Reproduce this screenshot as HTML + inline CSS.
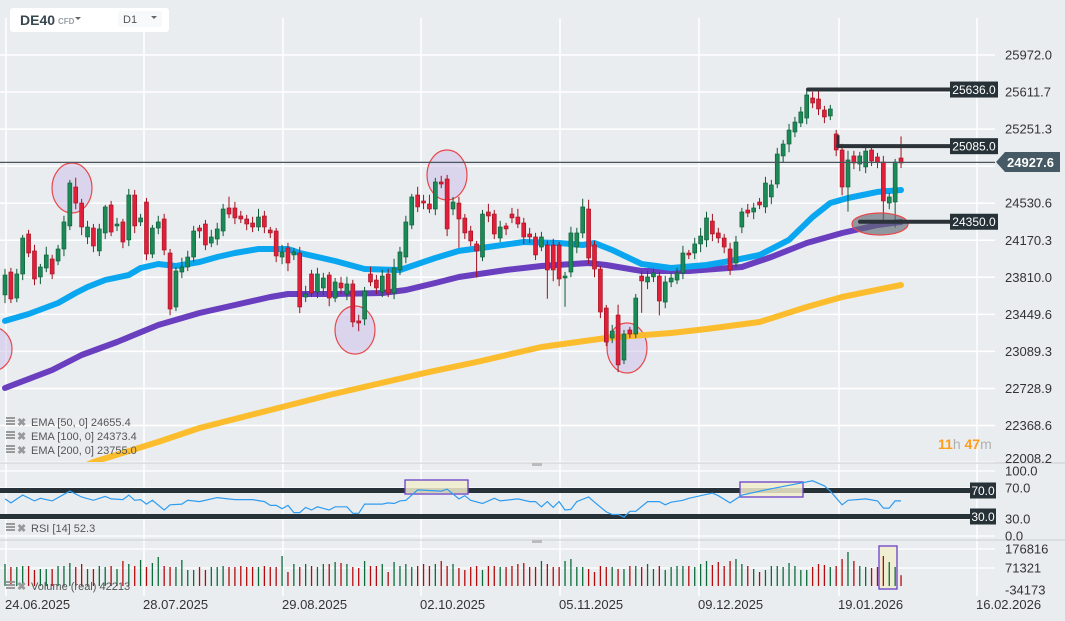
<!DOCTYPE html>
<html><head><meta charset="utf-8"><style>
html,body{margin:0;padding:0;background:#eaedf0;width:1065px;height:621px;overflow:hidden;font-family:"Liberation Sans",sans-serif}
svg{position:absolute;left:0;top:0}
</style></head><body>
<svg id="c" width="1065" height="621"></svg>
<script>
const opens=[23638,23861,23608,23842,24231,24066,23813,23900,23988,23968,24085,24309,24688,24532,24202,24289,24066,24241,24513,24309,24348,24173,24610,24348,24542,24036,24289,24377,24046,23521,23861,23910,24007,24289,24328,24143,24182,24260,24484,24484,24406,24377,24338,24299,24406,24270,24260,24007,24095,24027,24046,23618,23842,23667,23706,23832,23608,23754,23647,23745,23385,23404,23842,23783,23667,23842,23657,23881,24007,24318,24610,24552,24523,24474,24737,24766,24474,24532,24386,24260,24134,24007,24445,24425,24192,24309,24425,24396,24338,24231,24202,24104,24124,24124,24124,23803,23861,24104,24241,24474,24124,23890,23511,23219,23443,23005,23297,23258,23822,23764,23813,23822,23569,23764,23783,23852,24046,24046,24134,24173,24357,24241,24192,24085,23949,24299,24464,24445,24542,24494,24591,24717,24990,25106,25223,25311,25359,25554,25544,25437,25379,25204,25048,24688,24990,24912,24883,25048,24980,24931,24532,24542,24970];
const closes=[23832,23599,23842,24192,24046,23793,23910,24027,23842,24085,24348,24727,24532,24299,24299,24114,24280,24494,24250,24328,24153,24610,24309,24387,24036,24289,24348,24075,23501,23871,23910,24007,24260,24260,24124,24202,24280,24474,24425,24387,24377,24328,24299,24396,24299,24241,24017,24056,23949,24056,23521,23647,23657,23842,23803,23608,23764,23706,23745,23375,23365,23676,23764,23706,23822,23657,23900,24056,24348,24591,24494,24532,24474,24737,24717,24280,24542,24377,24241,24163,24066,24425,24406,24231,24299,24280,24387,24328,24202,24202,24027,24202,23881,23881,23793,23822,24241,24241,24494,23997,23890,23472,23180,23287,22957,23258,23258,23608,23774,23813,23852,23579,23764,23803,23852,24046,24027,24134,24211,24387,24231,24192,24104,23881,24153,24445,24435,24484,24513,24727,24708,25009,25106,25242,25320,25418,25583,25505,25447,25369,25447,25048,24688,24951,24922,24990,25038,24941,24931,24552,24591,24931,24922];
const wickHi=[60,40,50,30,40,60,30,80,40,40,60,30,90,40,60,40,50,20,40,60,30,60,50,40,40,30,60,50,40,40,90,60,50,30,40,70,60,50,110,60,50,40,60,80,50,30,30,70,50,40,60,80,40,60,50,30,40,60,70,40,60,40,70,50,60,50,90,50,60,30,80,60,90,40,60,40,50,60,40,50,30,40,80,40,60,30,60,80,50,60,40,50,40,60,30,40,60,50,80,90,40,30,30,60,100,40,30,40,50,60,40,40,60,50,50,70,30,60,80,60,70,50,40,60,60,40,60,50,40,60,50,60,40,60,50,50,40,60,80,40,40,40,60,90,50,40,30,50,40,60,40,30,210];
const wickLo=[80,40,40,60,40,60,70,40,50,40,70,40,60,80,70,60,50,60,40,50,60,60,70,40,60,40,60,50,60,40,60,40,50,70,50,40,60,50,40,60,40,60,50,40,60,50,60,70,80,50,60,50,40,60,70,80,40,60,60,50,80,60,40,60,50,40,60,50,60,40,50,60,40,60,40,70,60,280,60,50,260,40,60,50,40,60,50,40,70,60,50,40,280,110,70,280,50,60,50,60,80,60,40,50,70,40,40,40,310,70,50,140,60,50,40,60,40,60,80,70,70,50,60,50,40,60,40,70,40,60,70,40,60,80,50,40,60,50,60,60,40,60,80,240,60,70,60,50,60,190,60,250,50];
const volumes=[110000,95000,95000,100000,100000,80000,85000,85000,85000,100000,100000,115000,95000,110000,85000,85000,100000,95000,100000,85000,125000,110000,100000,130000,95000,115000,145000,100000,95000,95000,130000,80000,80000,95000,80000,95000,95000,100000,95000,95000,100000,95000,95000,95000,100000,95000,95000,150000,70000,110000,95000,110000,100000,95000,110000,110000,120000,115000,110000,95000,90000,125000,100000,100000,110000,70000,120000,100000,110000,95000,100000,110000,100000,110000,125000,100000,110000,90000,80000,95000,100000,80000,100000,100000,95000,95000,100000,110000,115000,95000,95000,125000,110000,95000,95000,125000,135000,95000,95000,85000,70000,100000,95000,95000,85000,85000,100000,100000,95000,110000,85000,100000,80000,95000,100000,100000,100000,95000,110000,125000,105000,120000,100000,125000,135000,110000,100000,85000,70000,80000,100000,100000,95000,115000,100000,80000,80000,95000,110000,105000,95000,100000,135000,170000,125000,100000,95000,90000,95000,150000,120000,95000,54000];
const ema50Idx=[0,4,9,12,14,17,21,23,26,29,33,36,39,43,48,50,56,61,67,73,77,82,88,94,98,100,103,108,113,119,123,128,133,137,140,143,148,152];
const ema50Val=[23385,23453,23560,23657,23715,23783,23832,23900,23939,23920,23958,24007,24046,24085,24085,24046,23968,23890,23881,23997,24066,24104,24153,24143,24124,24143,24075,23939,23900,23929,23968,24027,24173,24396,24532,24581,24640,24659];
const ema100Idx=[0,8,13,19,26,33,39,45,48,56,64,68,73,77,85,91,99,102,108,116,125,130,136,142,148,152];
const ema100Val=[22733,22908,23054,23180,23346,23462,23540,23618,23647,23647,23657,23686,23754,23813,23881,23920,23949,23929,23871,23871,23910,24007,24143,24241,24318,24348];
const ema200Idx=[9,15,26,33,45,55,72,80,91,102,113,119,128,136,142,152];
const ema200Val=[21857,22013,22208,22344,22519,22665,22889,22986,23132,23219,23268,23307,23375,23521,23618,23735];
const rsiIdx=[0,1,3,5,6,8,11,13,15,17,18,20,21,22,23,24,25,27,28,30,31,33,36,39,42,44,45,46,47,48,49,50,51,52,53,55,56,58,59,60,61,64,65,66,67,68,70,72,74,75,77,78,79,81,83,84,87,89,90,91,92,93,94,95,96,97,99,100,102,103,104,105,106,107,109,111,112,113,115,116,118,120,121,123,125,129,133,137,139,140,142,143,146,148,149,150,151,152];
const rsiVal=[57,51,63,54,58,54,69,60,55,61,57,56,63,55,56,49,55,40,48,49,55,53,59,56,56,53,47,47,42,47,36,36,44,40,45,40,45,45,35,35,49,49,51,50,54,55,71,70,69,72,57,62,55,50,58,54,57,53,53,45,53,44,53,40,41,53,60,52,37,33,33,29,38,38,53,53,48,52,55,58,62,66,62,51,63,71,78,85,77,69,48,55,57,54,43,43,54,54];
const dateLabels=['24.06.2025','28.07.2025','29.08.2025','02.10.2025','05.11.2025','09.12.2025','19.01.2026','16.02.2026'];
const dateX=[5,143,282,420,559,698,838,976];
const priceTicks=['25972.0','25611.7','25251.3','24890.9','24530.6','24170.3','23810.0','23449.6','23089.3','22728.9','22368.6','22008.2'];
const levels=[25636.0,25085.0,24350.0];
const levelStart=[808,838,860];

const NS='http://www.w3.org/2000/svg';
const svg=document.getElementById('c');
function el(tag,attrs,parent){const e=document.createElementNS(NS,tag);for(const k in attrs)e.setAttribute(k,attrs[k]);(parent||svg).appendChild(e);return e;}
const Y=p=>55+(25972-p)/360.4*37.05;
const X=i=>5+i*5.895;
const RY=r=>536-r*0.65;
const VY=v=>586-v*0.0002;

for(let k=0;k<priceTicks.length;k++){const y=55+k*37.05;const g=el('line',{x1:0,x2:995,y1:y,y2:y,stroke:'#fff','stroke-width':1.5});}
[471,488,519,536,549,568].forEach(y=>{const g=el('line',{x1:0,x2:995,y1:y,y2:y,stroke:'#fff','stroke-width':1.2});});
dateX.forEach(x=>{const g=el('line',{x1:x+1,x2:x+1,y1:18,y2:596,stroke:'#fff','stroke-width':1.5});});
el('line',{x1:0,x2:1065,y1:463,y2:463,stroke:'#d0d4d8','stroke-width':1.2});
el('line',{x1:0,x2:1065,y1:540,y2:540,stroke:'#d0d4d8','stroke-width':1.2});
el('rect',{x:532,y:463,width:10,height:3,fill:'#bbb'});
el('rect',{x:532,y:540,width:10,height:3,fill:'#bbb'});

const defs=el('defs',{});const cp=el('clipPath',{id:'mainclip'},defs);el('rect',{x:0,y:20,width:995,height:442},cp);
const main=el('g',{'clip-path':'url(#mainclip)'});


function ell(cx,cy,rx,ry,fill){const e=el('ellipse',{cx,cy,rx,ry,fill,stroke:'#e8474a','stroke-width':1.2},main);return e;}
ell(72,188,20,25,'rgba(200,185,230,0.45)');
ell(355,330,20,24,'rgba(200,185,230,0.45)');
ell(447,175,20,25,'rgba(200,185,230,0.45)');
ell(627,348,20,25,'rgba(200,185,230,0.45)');
ell(-8,349,20,22,'rgba(200,185,230,0.45)');

function line(idx,val,color,w,name){let d='';for(let k=0;k<idx.length;k++)d+=(k?'L':'M')+X(idx[k]).toFixed(1)+' '+Y(val[k]).toFixed(1);const p=el('path',{d,fill:'none',stroke:color,'stroke-width':w,'stroke-linejoin':'round','stroke-linecap':'round'},main);}
line(ema200Idx,ema200Val,'#fbbd2e',6,'ema-200-line');
line(ema100Idx,ema100Val,'#6a3fbf',6,'ema-100-line');
line(ema50Idx,ema50Val,'#0aa7f0',6,'ema-50-line');

for(let i=0;i<closes.length;i++){
  const o=opens[i],c=closes[i],up=c>=o;const x=X(i);
  const hi=Math.max(o,c)+wickHi[i],lo=Math.min(o,c)-wickLo[i];
  const col=up?'#1b8a57':'#e0203a',stroke=up?'#0d5a36':'#a0101f';
  const w=el('line',{x1:x,x2:x,y1:Y(hi),y2:Y(lo),stroke:stroke,'stroke-width':1},main);
  
  const top=Y(Math.max(o,c)),bot=Y(Math.min(o,c));
  const b=el('rect',{x:x-2,y:top,width:4,height:Math.max(1.5,bot-top),fill:col,stroke:stroke,'stroke-width':0.6},main);
  
}
const ge=el('ellipse',{cx:880,cy:224,rx:28,ry:11,fill:'rgba(95,105,115,0.65)',stroke:'#e8474a','stroke-width':1.2},main);


const cpl=el('line',{x1:0,x2:995,y1:Y(24927.6),y2:Y(24927.6),stroke:'#4a555c','stroke-width':1.2});


levels.forEach((lv,k)=>{const y=Y(lv);
 const l=el('line',{x1:levelStart[k],x2:950,y1:y,y2:y,stroke:'#2b3338','stroke-width':4,'stroke-linecap':'round'});
 
 const r=el('rect',{x:950,y:y-8,width:48,height:16,fill:'#263238'});
 const t=el('text',{x:974,y:y+4.5,'text-anchor':'middle','font-size':12,fill:'#fff'});t.textContent=lv.toFixed(1);
});
{const y=Y(levels[1]);el('line',{x1:838,x2:838,y1:y-11,y2:y,stroke:'#2b3338','stroke-width':3});}

priceTicks.forEach((t,k)=>{if(k===3)return;let y=55+k*37.05+4.5;if(k===11)y=463;const e=el('text',{x:1005,y,'font-size':13,fill:'#333'});e.textContent=t;});
const cur=el('path',{d:'M996 162 L1005 152 L1060 152 L1060 172 L1005 172 Z',fill:'#455a64'});
const ct=el('text',{x:1007,y:167,'font-size':13,'font-weight':'bold',fill:'#fff'});ct.textContent='24927.6';

const rl=[70,30];rl.forEach(v=>{const y=RY(v);const l=el('line',{x1:0,x2:970,y1:y,y2:y,stroke:'#263238','stroke-width':5});
 el('rect',{x:970,y:y-8,width:26,height:16,fill:'#263238'});const t=el('text',{x:983,y:y+4.5,'text-anchor':'middle','font-size':12,fill:'#fff'});t.textContent=v.toFixed(1);});
function box(x,y,w,h,name){const r=el('rect',{x,y,width:w,height:h,fill:'rgba(240,236,205,0.85)',stroke:'#6a3fc8','stroke-width':1.3});}
box(405,480,63,14,'rsi-box');box(740,482,63,15,'rsi-box');
{let d='';for(let k=0;k<rsiIdx.length;k++)d+=(k?'L':'M')+X(rsiIdx[k]).toFixed(1)+' '+RY(rsiVal[k]).toFixed(1);
 const p=el('path',{d,fill:'none',stroke:'#2f9cf0','stroke-width':1.2});}
[['100.0',471],['70.0',488],['30.0',519],['0.0',536]].forEach(([t,y])=>{const e=el('text',{x:1005,y:y+4.5,'font-size':13,fill:'#333'});e.textContent=t;});

box(879,546,18,43,'volume-box');
for(let i=0;i<volumes.length;i++){const x=X(i);const up=closes[i]>=opens[i];
 const b=el('line',{x1:x,x2:x,y1:VY(volumes[i]),y2:586,stroke:up?'#0b6b3a':'#b50a0a','stroke-width':1.3});
 }
[['176816',549],['71321',568],['-34173',590]].forEach(([t,y])=>{const e=el('text',{x:1005,y:y+4.5,'font-size':13,fill:'#333'});e.textContent=t;});

dateLabels.forEach((t,k)=>{const e=el('text',{x:dateX[k],y:609,'font-size':13,fill:'#333'});e.textContent=t;});

function legend(y,txt,name){const g=el('g',{});
 el('rect',{x:6,y:y-8,width:9,height:2,fill:'#999'},g);el('rect',{x:6,y:y-5,width:9,height:2,fill:'#999'},g);el('rect',{x:6,y:y-2,width:9,height:2,fill:'#999'},g);
 const x=el('text',{x:17,y:y+1,'font-size':11,fill:'#999','font-weight':'bold'},g);x.textContent='✖';
 const t=el('text',{x:31,y:y+1,'font-size':11,fill:'#555'},g);t.textContent=txt;}
legend(425,'EMA [50,  0]  24655.4','ema-50-legend');
legend(439,'EMA [100,  0]  24373.4','ema-100-legend');
legend(453,'EMA [200,  0]  23755.0','ema-200-legend');
legend(531,'RSI  [14]  52.3','rsi-legend');
legend(589,'Volume  (real)  42213','volume-legend');

{const t=el('text',{x:938,y:449,'font-size':14,'font-weight':'bold',fill:'#ff9c1a'});
 t.innerHTML='11<tspan fill="#b0b0b0" font-weight="normal">h</tspan> 47<tspan fill="#b0b0b0" font-weight="normal">m</tspan>';}

{const g=el('g',{});
 el('rect',{x:10,y:8,width:159,height:24,rx:3,fill:'#fff'},g);
 const a=el('text',{x:20,y:25,'font-size':14,'font-weight':'bold',fill:'#37474f'},g);a.textContent='DE40';
 const b=el('text',{x:58,y:24,'font-size':8,'font-weight':'bold',fill:'#9aa0a6'},g);b.textContent='CFD';
 el('path',{d:'M75 17 L81 17 L78 20 Z',fill:'#666'},g);
 const tf=el('g',{},g);
 el('rect',{x:118,y:11,width:44,height:16,rx:2,fill:'#f8f9fa'},tf);
 const d=el('text',{x:123,y:23,'font-size':11,fill:'#555'},tf);d.textContent='D1';
 el('path',{d:'M151 16 L157 16 L154 19 Z',fill:'#666'},tf);}
</script>
</body></html>
